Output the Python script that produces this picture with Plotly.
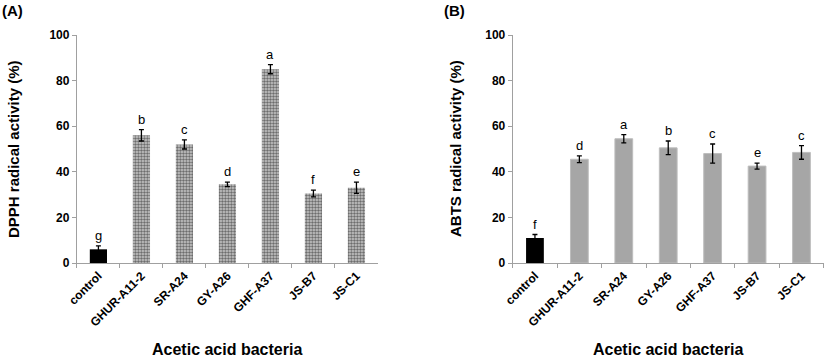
import plotly.graph_objects as go
from plotly.subplots import make_subplots

categories = ["control", "GHUR-A11-2", "SR-A24", "GY-A26", "GHF-A37", "JS-B7", "JS-C1"]
dpph_values = [6.0, 56.0, 52.0, 34.5, 85.0, 30.5, 33.0]
dpph_errors = [1.5, 2.5, 2.0, 1.0, 2.0, 1.5, 2.5]
dpph_letters = ["g", "b", "c", "d", "a", "f", "e"]
abts_values = [11.0, 45.5, 54.5, 50.5, 48.0, 42.5, 48.5]
abts_errors = [1.5, 1.5, 1.8, 3.0, 4.2, 1.3, 3.0]
abts_letters = ["f", "d", "a", "b", "c", "e", "c"]
y_ticks = [0, 20, 40, 60, 80, 100]

FONT = "Liberation Sans, Arial, sans-serif"
fig = make_subplots(rows=1, cols=2)

def add_panel(col, values, errors, letters, pattern):
    ctrl = [values[0]] + [None] * (len(values) - 1)
    rest = [None] + values[1:]
    err = dict(type="data", array=errors, color="black", thickness=1.3, width=2.5)
    fig.add_trace(go.Bar(x=categories, y=ctrl, width=0.4,
                         marker=dict(color="black", line=dict(width=0)),
                         error_y=err, showlegend=False), row=1, col=col)
    if pattern:
        marker = dict(color="#909090", line=dict(width=0),
                      pattern=dict(shape=".", size=3, solidity=0.5, fgcolor="#6a6a6a", bgcolor="#cccccc",
                                   fillmode="replace"))
    else:
        marker = dict(color="#a6a6a6", line=dict(width=1, color="#bdbdbd"))
    fig.add_trace(go.Bar(x=categories, y=rest, width=0.4, marker=marker,
                         error_y=err, showlegend=False), row=1, col=col)
    xref = "x" if col == 1 else "x2"
    yref = "y" if col == 1 else "y2"
    for c, v, e, t in zip(categories, values, errors, letters):
        fig.add_annotation(x=c, y=v + e, xref=xref, yref=yref, text=t, showarrow=False,
                           yanchor="bottom", yshift=1,
                           font=dict(family=FONT, size=13, color="black"))

add_panel(1, dpph_values, dpph_errors, dpph_letters, True)
add_panel(2, abts_values, abts_errors, abts_letters, False)

axis_common = dict(showline=True, linecolor="#a0a0a0", linewidth=1.2, showgrid=False, zeroline=False,
                   ticks="outside", tickcolor="#a0a0a0", ticklen=4)
fig.update_xaxes(**axis_common, tickangle=-45, tickson="boundaries",
                 tickfont=dict(family=FONT, size=12, color="black", weight="bold"))
fig.update_yaxes(**axis_common, range=[0, 100], tickvals=y_ticks,
                 tickfont=dict(family=FONT, size=12, color="black", weight="bold"))
fig.update_layout(
    xaxis=dict(domain=[0.093, 0.457]),
    xaxis2=dict(domain=[0.620, 0.996]),
    width=827, height=358, margin=dict(l=0, r=0, t=35, b=95),
    plot_bgcolor="white", paper_bgcolor="white", template="none", barmode="overlay",
)
H = 228.0
def py(px):
    return (263 - px) / H

anns = [
    dict(text="<b>(A)</b>", x=0, y=py(11), xanchor="left", size=15),
    dict(text="<b>(B)</b>", x=442 / 827, y=py(11), xanchor="left", size=15),
    dict(text="<b>DPPH radical activity (%)</b>", x=13 / 827, y=0.5, textangle=-90, size=15),
    dict(text="<b>ABTS radical activity (%)</b>", x=455 / 827, y=0.5, textangle=-90, size=15),
    dict(text="<b>Acetic acid bacteria</b>", x=227 / 827, y=py(349), size=16),
    dict(text="<b>Acetic acid bacteria</b>", x=668 / 827, y=py(349), size=16),
]
for a in anns:
    fig.add_annotation(text=a["text"], x=a["x"], y=a["y"], xref="paper", yref="paper", showarrow=False,
                       xanchor=a.get("xanchor", "center"), yanchor="middle",
                       textangle=a.get("textangle", 0),
                       font=dict(family=FONT, size=a["size"], color="black"))
fig.write_html("out.html", config={"displayModeBar": False},
               post_script="document.body.style.margin='0';")
